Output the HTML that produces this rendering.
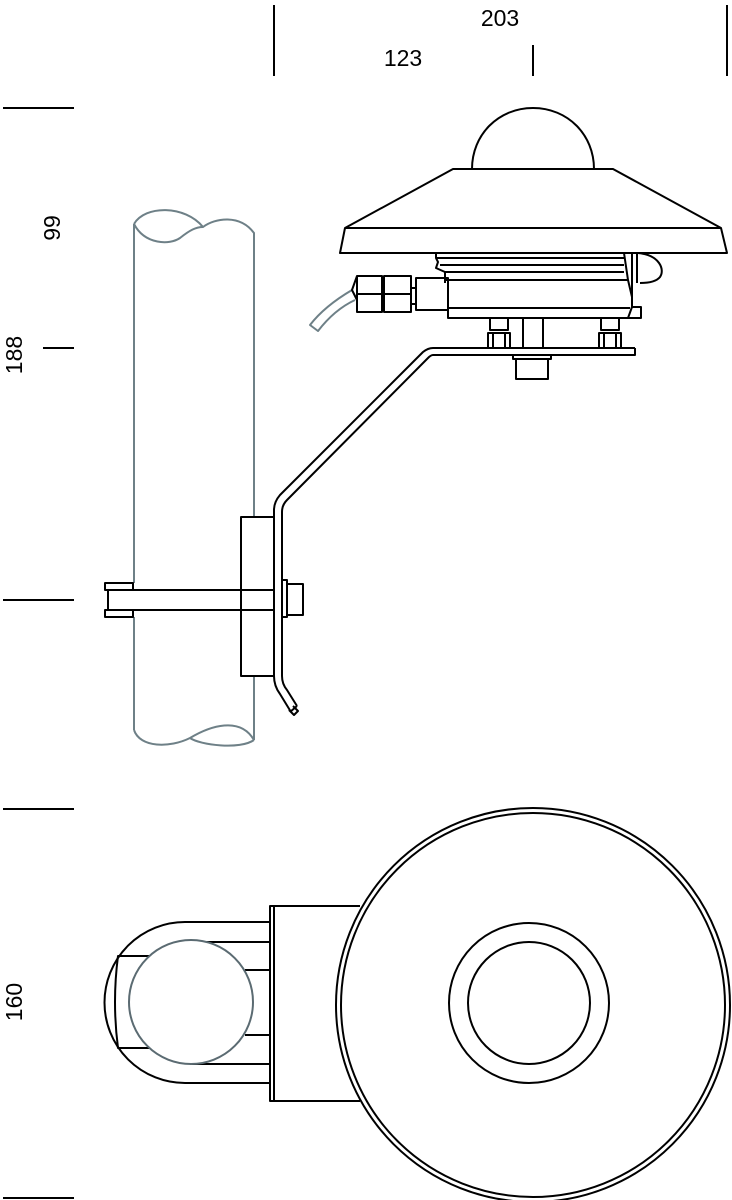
<!DOCTYPE html>
<html><head><meta charset="utf-8"><style>html,body{margin:0;padding:0;background:#fff}svg{display:block}</style></head>
<body>
<svg width="732" height="1200" viewBox="0 0 732 1200" xmlns="http://www.w3.org/2000/svg" fill="none" stroke="#000" stroke-width="2" stroke-linejoin="round">
<!-- dimensions -->
<g stroke-width="2">
<line x1="274" y1="5" x2="274" y2="76"/>
<line x1="727" y1="5" x2="727" y2="76"/>
<line x1="533" y1="45" x2="533" y2="76"/>
<line x1="3" y1="108" x2="74" y2="108"/>
<line x1="43" y1="348" x2="74" y2="348"/>
<line x1="3" y1="600" x2="74" y2="600"/>
<line x1="3" y1="809" x2="74" y2="809"/>
<line x1="3" y1="1198" x2="74" y2="1198"/>
</g>
<g fill="#000" stroke="none" font-family="Liberation Sans, sans-serif" font-size="23">
<text x="500" y="26" text-anchor="middle">203</text>
<text x="403" y="66" text-anchor="middle">123</text>
<text transform="translate(60,228) rotate(-90)" text-anchor="middle">99</text>
<text transform="translate(22,355) rotate(-90)" text-anchor="middle">188</text>
<text transform="translate(22,1002) rotate(-90)" text-anchor="middle">160</text>
</g>
<!-- pipe side view -->
<g stroke="#6e8087" stroke-width="2">
<path d="M134,224 C145,205 185,205 203,227 C215,218 240,214 254,233 L254,517"/>
<path d="M134,224 C145,245 170,245 180,238 C190,230 196,227 203,227"/>
<line x1="134" y1="224" x2="134" y2="583"/>
<line x1="134" y1="617" x2="134" y2="730"/>
<line x1="254" y1="676" x2="254" y2="740"/>
<path d="M134,730 C140,748 170,748 190,738 C210,726 240,716 254,740"/>
<path d="M190,738 C200,745 240,750 254,740"/>
<path d="M352,290 C335,300 320,312 310,325 L318,331 C328,318 340,307 355,300"/>
</g>
<!-- sensor -->
<path d="M472,169 C472,135 498,108 533,108 C568,108 594,135 594,169"/>
<path d="M453,169 L613,169 L721,228 L345,228 Z"/>
<path d="M345,228 L340,253 L727,253 L721,228"/>
<path d="M436,253 L436,258 L438,262 L436,268 L445,272 L445,283 M436,258 L624,258 M440,265 L624,265 M445,272 L624,272 M445,280 L628,280"/>
<path d="M624,253 L628,280 L632,297 L632,307 L628,318 L448,318 L448,283"/>
<line x1="448" y1="308" x2="630" y2="308"/>
<path d="M632,253 L632,307 L641,307 L641,318 L628,318"/>
<line x1="637" y1="253" x2="637" y2="283"/>
<path d="M638,253 C660,255 665,270 660,277 C656,282 648,283 640,283"/>
<rect x="357" y="276" width="25" height="36"/>
<rect x="384" y="276" width="27" height="36"/>
<line x1="357" y1="294" x2="411" y2="294"/>
<line x1="411" y1="288" x2="416" y2="288"/><line x1="411" y1="304" x2="416" y2="304"/>
<rect x="416" y="278" width="32" height="32"/>
<path d="M357,276 L352,290 L357,300"/>
<!-- bolts / stem -->
<rect x="490" y="318" width="18" height="12"/><rect x="488" y="333" width="22" height="15"/><line x1="493" y1="333" x2="493" y2="348"/><line x1="505" y1="333" x2="505" y2="348"/>
<rect x="601" y="318" width="18" height="12"/><rect x="599" y="333" width="22" height="15"/><line x1="604" y1="333" x2="604" y2="348"/><line x1="616" y1="333" x2="616" y2="348"/>
<rect x="523" y="318" width="20" height="30"/>
<!-- plate -->
<path d="M635,348 L635,355 L436,355 L433,355"/>
<line x1="433" y1="348" x2="635" y2="348"/>
<rect x="513" y="355" width="38" height="4"/>
<rect x="516" y="359" width="32" height="20"/>
<!-- bracket -->
<path d="M433,348 Q428,348 423,352 L280,495 Q274,502 274,510 L274,676 Q274,686 280,694 L291,712"/>
<path d="M433,355 Q431,355 428,358 L287,500 Q282,505 282,512 L282,676 Q282,684 287,690 L297,706"/>
<path d="M290,712 L297,706" stroke-width="2"/>
<path d="M289,710 l5,5 l4,-4 l-5,-5"/>
<!-- clamp block -->
<rect x="241" y="517" width="33" height="159"/>
<rect x="108" y="590" width="166" height="20"/>
<rect x="105" y="583" width="28" height="7"/>
<rect x="105" y="610" width="28" height="7"/>
<rect x="282" y="580" width="5" height="37"/>
<rect x="287" y="584" width="16" height="31"/>
<!-- top view -->
<circle cx="533" cy="1005" r="197" stroke-width="2"/>
<circle cx="533" cy="1005" r="192" stroke-width="2"/>
<circle cx="529" cy="1003" r="80"/>
<circle cx="529" cy="1003" r="61"/>
<path d="M360,906 L270,906 L270,1101 L360,1101"/>
<line x1="274" y1="906" x2="274" y2="1101"/>
<path d="M270,922 L185,922 A80,80 0 0 0 185,1083 L270,1083"/>
<line x1="190" y1="942" x2="270" y2="942"/>
<line x1="190" y1="1064" x2="270" y2="1064"/>
<line x1="245" y1="970" x2="270" y2="970"/>
<line x1="245" y1="1035" x2="270" y2="1035"/>
<path d="M150,956 L118,956 Q112,1002 118,1048 L150,1048"/>
<circle cx="191" cy="1002" r="62" stroke="#5b6b72" fill="#fff"/>
</svg>
</body></html>
